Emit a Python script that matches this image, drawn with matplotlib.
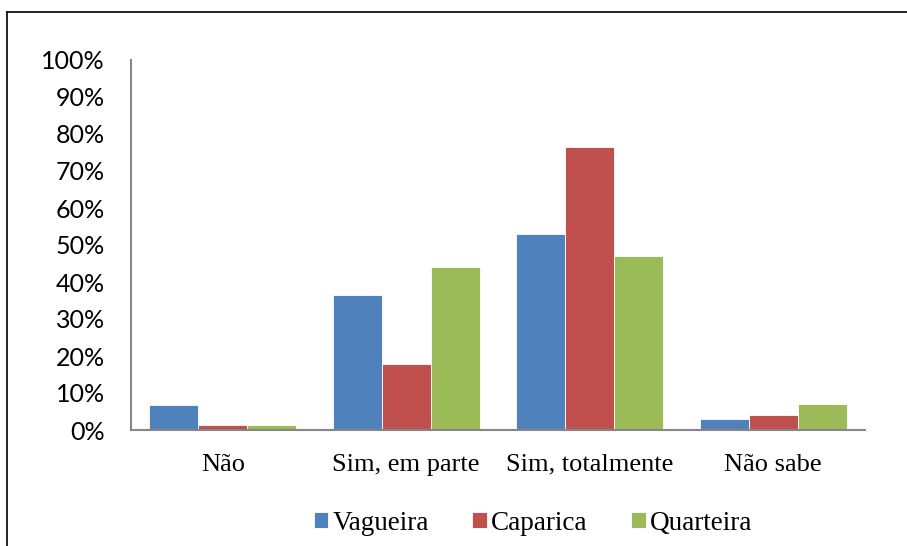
import numpy as np
import matplotlib.pyplot as plt
from matplotlib.lines import Line2D

categories = ['Não', 'Sim, em parte', 'Sim, totalmente', 'Não sabe']
series_names = ['Vagueira', 'Caparica', 'Quarteira']
vagueira = [0.068, 0.365, 0.531, 0.029]
caparica = [0.013, 0.178, 0.764, 0.041]
quarteira = [0.014, 0.440, 0.470, 0.070]
colors = ['#4F81BD', '#C0504D', '#9BBB59']
yticks = [0, 0.1, 0.2, 0.3, 0.4, 0.5, 0.6, 0.7, 0.8, 0.9, 1.0]

W, H = 907, 546
fig = plt.figure(figsize=(W / 100, H / 100), dpi=100)
ax = fig.add_axes([131 / W, (H - 430) / H, (865 - 131) / W, (430 - 60) / H])

x = np.arange(len(categories))
width = 0.8 / 3
for i, (name, vals) in enumerate(zip(series_names, [vagueira, caparica, quarteira])):
    ax.bar(x + (i - 1) * width, vals, width, color=colors[i], label=name,
           edgecolor='white', linewidth=0.6)

ax.set_xlim(-0.5, len(categories) - 0.5)
ax.set_ylim(0, 1.0)
ax.set_yticks(yticks)
ax.set_yticklabels([f'{int(round(t * 100))}%' for t in yticks],
                   family=['Lato', 'DejaVu Sans'], fontsize=18)
ax.set_xticks(x)
ax.set_xticklabels(categories, family='Liberation Serif', fontsize=19)
ax.tick_params(axis='y', length=0, pad=19)
ax.tick_params(axis='x', length=0, pad=17)

for s in ['top', 'right']:
    ax.spines[s].set_visible(False)
for s in ['left', 'bottom']:
    ax.spines[s].set_color('#868686')
    ax.spines[s].set_linewidth(1.5)

fig.legend(loc='center', bbox_to_anchor=(533 / W, 1 - 523 / H), ncol=3,
           frameon=False, prop={'family': 'Liberation Serif', 'size': 19.5},
           handlelength=0.55, handleheight=0.55, handletextpad=0.15,
           columnspacing=1.6)

# outer chart border (left and top edges visible)
fig.add_artist(Line2D([7 / W, 7 / W], [0, 1 - 12 / H], color='black', lw=1.2))
fig.add_artist(Line2D([7 / W, 1], [1 - 12 / H, 1 - 12 / H], color='black', lw=1.2))

fig.savefig('out.png', dpi=100)
